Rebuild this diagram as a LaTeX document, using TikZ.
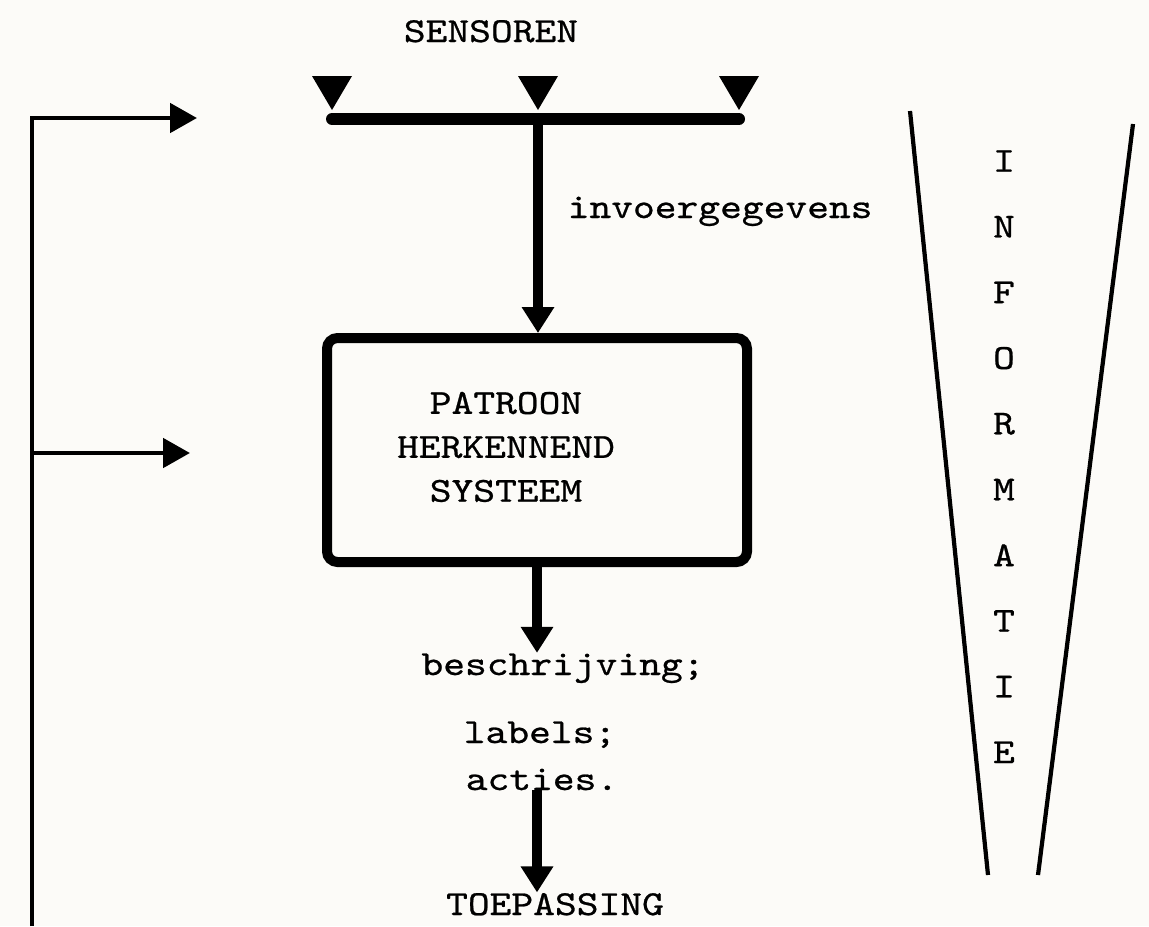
\documentclass[tikz,border=0pt]{standalone}
\usepackage{fontspec}
\setmonofont[FakeBold=0.7, FakeStretch=1.18]{lmmono10-regular.otf}
\usepackage{tikz}
\usetikzlibrary{shapes,arrows.meta}
\usetikzlibrary{positioning,calc}
\definecolor{paper}{RGB}{252,251,248}

\begin{document}
\begin{tikzpicture}
[
   txt/.style={font=\ttfamily\fontsize{10}{12.5}\selectfont, inner sep=0pt},
   thinarrow/.style={line width=1.4pt, -{Triangle[length=0.27cm,width=0.29cm]}},
   thickarrow/.style={line width=2.8pt, -{Triangle[length=0.26cm,width=0.31cm]}}]
\fill[paper] (0,0) rectangle (11.49,-9.26);
\useasboundingbox (0,0) rectangle (11.49,-9.26);

\node[txt, anchor=base] (sens) at (4.91,-0.42) {SENSOREN};
\coordinate (s1) at (3.32,-1.19);
\coordinate (s2) at (5.38,-1.19);
\coordinate (s3) at (7.39,-1.19);
\draw[line width=0.12cm, line cap=round] (s1) -- (s3);
\foreach \s in {s1,s2,s3}
   \fill ($(\s)+(-0.2,0.43)$) -- ($(\s)+(0.2,0.43)$) -- ($(\s)+(0,0.09)$) -- cycle;

\node[draw, line width=0.1cm, rounded corners=3pt, minimum width=4.2cm, minimum height=2.24cm] (psys) at (5.37,-4.5) {};
\node[txt, align=center] (ptxt) at (5.06,-4.47) {PATROON\\HERKENNEND\\SYSTEEM};
\draw[thickarrow] (s2) -- (s2 |- psys.north);
\node[txt, anchor=base west] (invoer) at (5.67,-2.18) {invoergegevens};

\node[txt, anchor=base] (besch) at (5.63,-6.75) {beschrijving;};
\node[txt, anchor=base] (lab) at (5.40,-7.43) {labels;};
\node[txt, anchor=base] (act) at (5.42,-7.90) {acties.};
\node[txt, anchor=base] (toep) at (5.55,-9.15) {TOEPASSING};
\draw[thickarrow] (psys.south) -- (psys.south |- besch.north);
\draw[thickarrow] (psys.south |- act.base) -- (psys.south |- toep.north);

\coordinate (fb0) at (0.32,-9.26);
\coordinate (fb1) at (0.32,-1.18);
\coordinate (fb2) at (0.32,-4.53);
\coordinate (in1) at (1.97,-1.18);
\coordinate (in2) at (1.90,-4.53);
\draw[thinarrow] (fb0) -- (fb1) -- (in1);
\draw[thinarrow] (fb2) -- (in2);

\coordinate (v1) at (9.10,-1.11);
\coordinate (v2) at (9.88,-8.75);
\coordinate (v3) at (11.33,-1.24);
\coordinate (v4) at (10.38,-8.75);
\draw[line width=1.2pt] (v1) -- (v2);
\draw[line width=1.2pt] (v3) -- (v4);
\foreach \c [count=\i from 0] in {I,N,F,O,R,M,A,T,I,E}
   \node[txt] (inf\i) at (10.04,-1.61-0.657*\i) {\c};
\end{tikzpicture}
\end{document}
